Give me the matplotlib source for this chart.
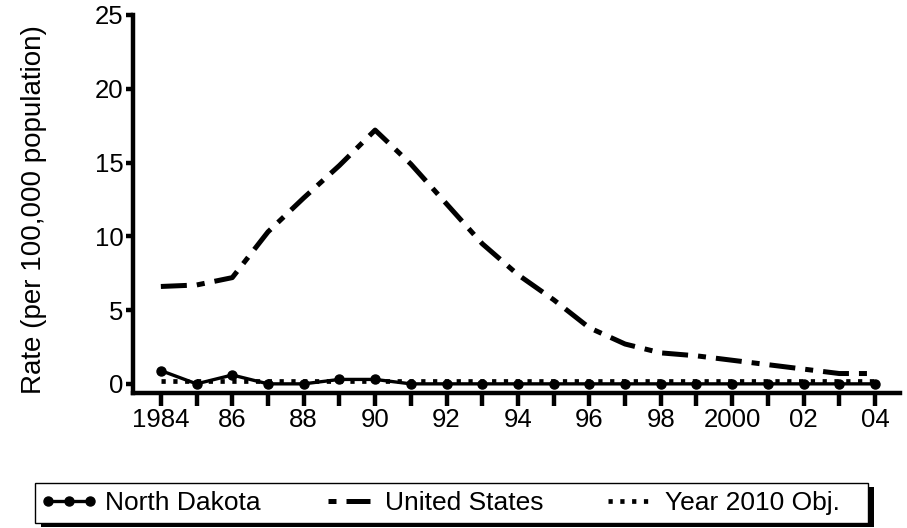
import matplotlib
matplotlib.use("Agg")
import matplotlib.pyplot as plt
from matplotlib.patches import Rectangle
from matplotlib.legend_handler import HandlerLine2D

plt.rcParams['font.family'] = ['Liberation Sans', 'DejaVu Sans']

years = list(range(1984, 2005))
north_dakota = [0.9, 0.0, 0.6, 0.0, 0.0, 0.3, 0.3, 0.0, 0.0, 0.0, 0.0, 0.0,
                0.0, 0.0, 0.0, 0.0, 0.0, 0.0, 0.0, 0.0, 0.0]
united_states = [6.6, 6.7, 7.2, 10.3, 12.6, 14.8, 17.2, 14.9, 12.2, 9.5, 7.4,
                 5.7, 3.8, 2.7, 2.1, 1.9, 1.6, 1.3, 1.0, 0.7, 0.7]
objective_2010 = [0.2] * len(years)

x_ticks = [1984, 1986, 1988, 1990, 1992, 1994, 1996, 1998, 2000, 2002, 2004]
x_tick_labels = ['1984', '86', '88', '90', '92', '94', '96', '98', '2000', '02', '04']
y_ticks = [0, 5, 10, 15, 20, 25]

W, H = 907, 528
fig = plt.figure(figsize=(W / 100, H / 100), dpi=100)
ax = fig.add_axes([133 / W, 1 - 393 / H, 767 / W, 378 / H])

US_DASHES = (5.2, 2.0, 1.6, 2.0)

obj_line, = ax.plot(years, objective_2010, color='black', lw=3.4,
                    linestyle=(0, (0.9, 1.6)), dash_capstyle='butt',
                    label='Year 2010 Obj.', zorder=2)
us_line, = ax.plot(years, united_states, color='black', lw=3.6,
                   linestyle=(0, US_DASHES), dash_capstyle='butt',
                   label='United States', zorder=3)
nd_line, = ax.plot(years, north_dakota, color='black', lw=2.4, marker='o',
                   markersize=6.5, label='North Dakota', zorder=4)

ax.set_xlim(1983.22, 2004.7)
ax.set_ylim(-0.62, 25)
ax.set_xticks(x_ticks)
ax.set_xticks(years, minor=True)
ax.set_xticklabels(x_tick_labels)
ax.set_yticks(y_ticks)

for side in ('top', 'right'):
    ax.spines[side].set_visible(False)
for side in ('left', 'bottom'):
    ax.spines[side].set_linewidth(3.2)
    ax.spines[side].set_capstyle('projecting')

ax.tick_params(axis='x', which='both', direction='out', length=9, width=3.2,
               labelsize=18.5, pad=2)
ax.tick_params(axis='x', which='minor', labelbottom=False)
ax.tick_params(axis='y', direction='out', length=5, width=3.2,
               labelsize=18.5, pad=2)

ax.set_ylabel('Rate (per 100,000 population)', fontsize=20)
ax.yaxis.set_label_coords(-0.112, 0.484)

# Legend box with a solid drop shadow along the right and bottom edges
box_x0, box_x1, box_top, box_bot = 35, 868, 483, 523
fig.patches.append(Rectangle(((box_x0 + 6) / W, 1 - (box_bot + 4) / H),
                             (box_x1 - box_x0) / W, (box_bot - box_top) / H,
                             transform=fig.transFigure, facecolor='black',
                             edgecolor='none', zorder=0))
fig.patches.append(Rectangle((box_x0 / W, 1 - box_bot / H),
                             (box_x1 - box_x0) / W, (box_bot - box_top) / H,
                             transform=fig.transFigure, facecolor='white',
                             edgecolor='black', linewidth=1.0, zorder=1))


def start_on_short_dash(legend_line, orig_line):
    legend_line.update_from(orig_line)
    legend_line.set_linestyle((US_DASHES[0] + US_DASHES[1], US_DASHES))


y_mid = 1 - 503 / H
entries = ((nd_line, 40, None), (us_line, 320, start_on_short_dash),
           (obj_line, 600, None))
for handle, start, updater in entries:
    handler = HandlerLine2D(numpoints=3, update_func=updater)
    leg = fig.legend([handle], [handle.get_label()], loc='center left',
                     bbox_to_anchor=(start / W, y_mid), frameon=False,
                     fontsize=19, handlelength=2.2, handletextpad=0.25,
                     borderpad=0, borderaxespad=0,
                     handler_map={handle: handler})
    leg.set_zorder(2)

fig.savefig('out.png', dpi=100)
